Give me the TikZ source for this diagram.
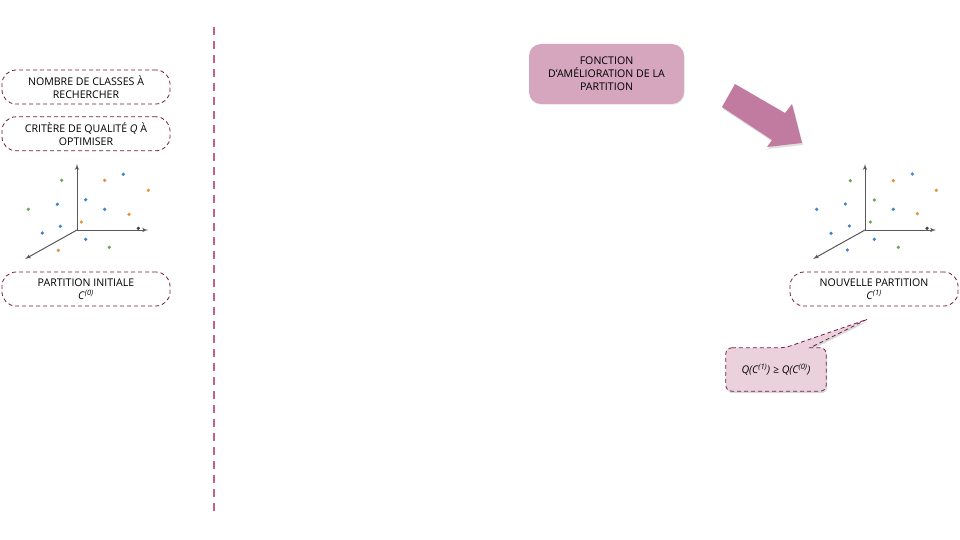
\documentclass[tikz,border=0pt]{standalone}
\usepackage{fontspec}
\setmainfont{Open Sans}
\usepackage{tikz}
\usetikzlibrary{arrows,positioning,backgrounds,shadows}
\definecolor{darkmag}{HTML}{741B47}
\definecolor{lightmag}{HTML}{D5A6BD}
\definecolor{arrowmag}{HTML}{C27BA0}
\definecolor{palemag}{HTML}{EAD1DC}
\definecolor{sepmag}{HTML}{C0628F}
\definecolor{ptblue}{HTML}{3D85C6}
\definecolor{ptorange}{HTML}{E69138}
\definecolor{ptgreen}{HTML}{6AA84F}
\definecolor{ptgray}{HTML}{434343}
\definecolor{axisgray}{HTML}{595959}

\begin{document}
\begin{tikzpicture}[
    x=1pt, y=-1pt,
    >=latex',
    font=\fontsize{10.6}{12.8}\selectfont,
    param/.style={
		rectangle,
		rounded corners=14pt,
		draw=darkmag,
		dash pattern=on 4pt off 3pt,
		line width=0.8pt,
		align=center,
		minimum width=168pt,
		minimum height=34pt,
		inner sep=0pt
	},
    fonction/.style={
		rectangle,
		rounded corners=12pt,
		fill=lightmag,
		align=center,
		minimum width=155pt,
		minimum height=60pt,
		inner sep=0pt,
		drop shadow={opacity=0.15, shadow xshift=0.5pt, shadow yshift=-1pt}
	},
    cond/.style={
		rectangle,
		align=center,
		minimum width=100pt,
		minimum height=43pt,
		inner sep=0pt,
		font=\fontsize{10.6}{12.8}\selectfont\itshape
	},
    axis/.style={
		->,
		draw=axisgray,
		line width=1pt
	},
    dot/.style={
		circle,
		inner sep=0pt,
		minimum size=3.6pt
	}
  ]
  \useasboundingbox (0,0) rectangle (960,540);
  \begin{scope}[on background layer]
    \fill[white] (0,0) rectangle (960,540);
  \end{scope}

  % separator
  \draw[sepmag, line width=2pt, dash pattern=on 8pt off 6pt] (214,27) -- (214,512);

  % inputs on the left
  \node [param] (nbclasses) at (86,87) {NOMBRE DE CLASSES À\\RECHERCHER};
  \node [param, below=12pt of nbclasses] (critere) {CRITÈRE DE QUALITÉ \textit{Q} À\\OPTIMISER};
  \node [param] (part0) at (86,289) {PARTITION INITIALE\\\textit{C}\textsuperscript{\textit{(0)}}};

  % initial cloud of points
  \coordinate (o0) at (77,230);
  \draw [axis] (o0) -- ++(0,-66);
  \draw [axis] (o0) -- ++(71,0);
  \draw [axis] (o0) -- ++(-52,29);
  \foreach \dx/\dy/\c in {-15.3/-49.7/ptgreen, 27.7/-49.7/ptorange, 46.3/-55.7/ptblue,
      71.3/-39.7/ptorange, -48.7/-20.7/ptgreen, -19.7/-25.7/ptblue, 8.7/-30.3/ptblue,
      27.7/-20.7/ptblue, 52/-15.7/ptorange, 4.3/-8/ptorange, -16.7/-3.7/ptblue,
      -34.7/3/ptblue, 61.3/-1.7/ptgray, 8.7/9.3/ptblue, -18.7/20.3/ptorange, 32.3/17.3/ptgreen}
    \node [dot, fill=\c] at ([shift={(\dx,\dy)}]o0) {};

  % improvement step
  \node [fonction] (amelio) at (606.5,74) {FONCTION\\D’AMÉLIORATION DE LA\\PARTITION};
  \fill [arrowmag, drop shadow={opacity=0.25, shadow xshift=1pt, shadow yshift=-2pt}]
    (735,84) -- (785,113) -- (792,104) -- (802,143) -- (767,147) -- (772,140) -- (722,107) -- cycle;

  % new cloud of points
  \coordinate (o1) at (865,230);
  \draw [axis] (o1) -- ++(0,-66);
  \draw [axis] (o1) -- ++(71,0);
  \draw [axis] (o1) -- ++(-52,29);
  \foreach \dx/\dy/\c in {-14.7/-49.3/ptgreen, 28.3/-49.3/ptorange, 47.3/-56/ptblue,
      71.3/-39.7/ptorange, -48.3/-20.7/ptblue, -19.7/-26/ptblue, 9.3/-30/ptgreen,
      28.3/-20.7/ptblue, 52.3/-16.3/ptorange, 5.3/-8/ptgreen, -15.7/-4/ptblue,
      -34/3.3/ptblue, 62/-1.7/ptgray, 9.3/9.3/ptblue, -17.7/20/ptblue, 33.3/17.3/ptgreen}
    \node [dot, fill=\c] at ([shift={(\dx,\dy)}]o1) {};

  \node [param] (part1) at (874,289) {NOUVELLE PARTITION\\\textit{C}\textsuperscript{\textit{(1)}}};

  % condition callout
  \node [cond] (qual) at (776,369.5) {Q(C\textsuperscript{(1)}) ≥ Q(C\textsuperscript{(0)})};
  \coordinate (tip) at ([xshift=-7pt, yshift=-13pt]part1.south);
  \begin{scope}[on background layer]
    \draw [draw=darkmag, fill=palemag, line width=0.8pt, dash pattern=on 4pt off 3pt,
           rounded corners=6pt, drop shadow={opacity=0.3, shadow xshift=1pt, shadow yshift=-2pt}]
      (qual.north west) -- ([xshift=9pt]qual.north) [sharp corners] -- (tip)
      -- ([xshift=34pt]qual.north) [rounded corners=6pt] -- (qual.north east)
      -- (qual.south east) -- (qual.south west) -- cycle;
  \end{scope}

\end{tikzpicture}
\end{document}
